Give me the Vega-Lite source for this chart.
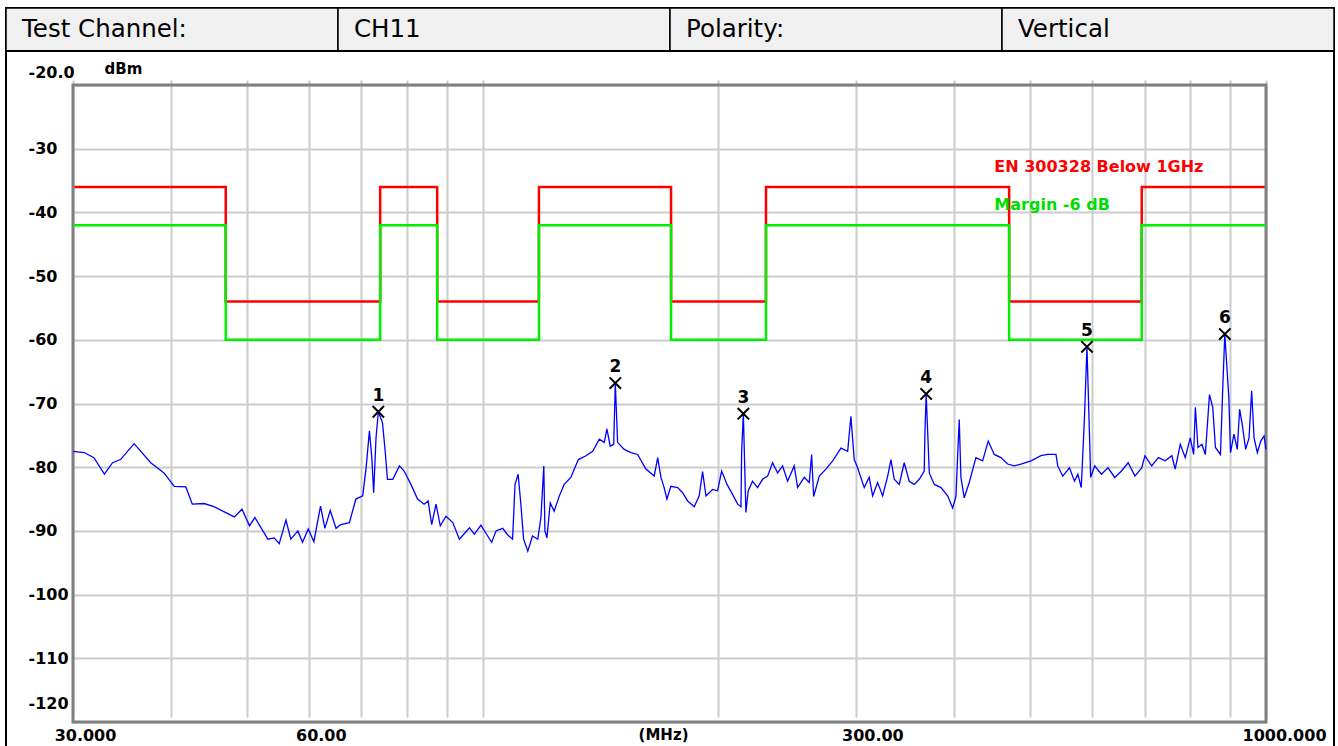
{
  "$schema": "https://vega.github.io/schema/vega-lite/v6.json",
  "background": "white",
  "padding": {"left": 4, "top": 6, "right": 0, "bottom": 0},
  "spacing": 0,
  "bounds": "flush",
  "config": {"view": {"stroke": "#000000", "strokeWidth": 2}, "concat": {"spacing": 0}},
  "datasets": {
    "header": [
      {"text": "Test Channel:"},
      {"text": "CH11"},
      {"text": "Polarity:"},
      {"text": "Vertical"}
    ],
    "limits": [
      {"series": "limit", "f": 30, "dBm": -36},
      {"series": "limit", "f": 47, "dBm": -54},
      {"series": "limit", "f": 74, "dBm": -36},
      {"series": "limit", "f": 87.5, "dBm": -54},
      {"series": "limit", "f": 118, "dBm": -36},
      {"series": "limit", "f": 174, "dBm": -54},
      {"series": "limit", "f": 230, "dBm": -36},
      {"series": "limit", "f": 470, "dBm": -54},
      {"series": "limit", "f": 694, "dBm": -36},
      {"series": "limit", "f": 1000, "dBm": -36},
      {"series": "margin", "f": 30, "dBm": -42},
      {"series": "margin", "f": 47, "dBm": -60},
      {"series": "margin", "f": 74, "dBm": -42},
      {"series": "margin", "f": 87.5, "dBm": -60},
      {"series": "margin", "f": 118, "dBm": -42},
      {"series": "margin", "f": 174, "dBm": -60},
      {"series": "margin", "f": 230, "dBm": -42},
      {"series": "margin", "f": 470, "dBm": -60},
      {"series": "margin", "f": 694, "dBm": -42},
      {"series": "margin", "f": 1000, "dBm": -42}
    ],
    "markers": [
      {"n": "1", "f": 73.6, "dBm": -71.3},
      {"n": "2", "f": 147.7, "dBm": -66.8},
      {"n": "3", "f": 215.2, "dBm": -71.6},
      {"n": "4", "f": 368.3, "dBm": -68.5},
      {"n": "5", "f": 590.8, "dBm": -61.1},
      {"n": "6", "f": 886, "dBm": -59.1}
    ],
    "trace": [
      {"f": 30.0, "dBm": -77.5}, {"f": 31.0, "dBm": -77.7}, {"f": 31.9, "dBm": -78.5}, {"f": 32.9, "dBm": -81.1},
      {"f": 33.7, "dBm": -79.3}, {"f": 34.5, "dBm": -78.8}, {"f": 35.9, "dBm": -76.3}, {"f": 37.7, "dBm": -79.3},
      {"f": 39.2, "dBm": -80.9}, {"f": 40.4, "dBm": -83.0}, {"f": 41.8, "dBm": -83.1}, {"f": 42.6, "dBm": -85.8},
      {"f": 44.1, "dBm": -85.7}, {"f": 45.4, "dBm": -86.2}, {"f": 48.2, "dBm": -87.8}, {"f": 49.3, "dBm": -86.6},
      {"f": 50.4, "dBm": -89.2}, {"f": 51.2, "dBm": -87.9}, {"f": 53.2, "dBm": -91.3}, {"f": 54.2, "dBm": -91.1},
      {"f": 55.0, "dBm": -92.0}, {"f": 56.1, "dBm": -88.3}, {"f": 56.9, "dBm": -91.3}, {"f": 58.1, "dBm": -90.0},
      {"f": 58.9, "dBm": -91.8}, {"f": 59.9, "dBm": -89.7}, {"f": 60.9, "dBm": -91.7}, {"f": 62.1, "dBm": -86.1},
      {"f": 62.9, "dBm": -89.6}, {"f": 63.9, "dBm": -86.8}, {"f": 65.0, "dBm": -89.6}, {"f": 65.9, "dBm": -89.0},
      {"f": 67.6, "dBm": -88.7}, {"f": 68.9, "dBm": -85.0}, {"f": 70.3, "dBm": -84.5}, {"f": 71.0, "dBm": -80.1},
      {"f": 71.7, "dBm": -74.3}, {"f": 72.2, "dBm": -78.5}, {"f": 72.6, "dBm": -84.0}, {"f": 73.1, "dBm": -75.4},
      {"f": 73.6, "dBm": -71.3}, {"f": 74.5, "dBm": -73.0}, {"f": 75.1, "dBm": -77.5}, {"f": 75.6, "dBm": -81.9},
      {"f": 76.8, "dBm": -81.9}, {"f": 78.3, "dBm": -79.8}, {"f": 79.4, "dBm": -80.6}, {"f": 81.0, "dBm": -82.7},
      {"f": 82.6, "dBm": -85.0}, {"f": 84.2, "dBm": -85.8}, {"f": 85.2, "dBm": -85.3}, {"f": 86.1, "dBm": -89.0},
      {"f": 87.2, "dBm": -85.8}, {"f": 88.3, "dBm": -89.2}, {"f": 89.8, "dBm": -87.7}, {"f": 91.6, "dBm": -88.7},
      {"f": 93.4, "dBm": -91.3}, {"f": 96.2, "dBm": -89.5}, {"f": 97.6, "dBm": -90.5}, {"f": 99.5, "dBm": -89.1},
      {"f": 101.5, "dBm": -90.8}, {"f": 102.7, "dBm": -91.8}, {"f": 104.0, "dBm": -90.0}, {"f": 106.1, "dBm": -89.6},
      {"f": 107.6, "dBm": -90.6}, {"f": 109.2, "dBm": -91.3}, {"f": 110.0, "dBm": -82.7}, {"f": 111.0, "dBm": -81.1},
      {"f": 111.9, "dBm": -85.8}, {"f": 112.8, "dBm": -91.3}, {"f": 114.2, "dBm": -93.2}, {"f": 115.8, "dBm": -90.8},
      {"f": 117.6, "dBm": -91.3}, {"f": 118.7, "dBm": -87.9}, {"f": 119.7, "dBm": -79.8}, {"f": 120.1, "dBm": -90.0},
      {"f": 120.8, "dBm": -91.1}, {"f": 122.0, "dBm": -85.6}, {"f": 123.4, "dBm": -86.9}, {"f": 125.3, "dBm": -84.5},
      {"f": 127.1, "dBm": -82.7}, {"f": 129.6, "dBm": -81.6}, {"f": 132.5, "dBm": -78.8}, {"f": 135.5, "dBm": -78.2},
      {"f": 138.2, "dBm": -77.5}, {"f": 140.9, "dBm": -75.6}, {"f": 143.0, "dBm": -76.1}, {"f": 144.1, "dBm": -74.0},
      {"f": 145.5, "dBm": -76.7}, {"f": 147.0, "dBm": -76.4}, {"f": 147.7, "dBm": -66.8}, {"f": 148.7, "dBm": -76.1},
      {"f": 151.6, "dBm": -77.2}, {"f": 154.7, "dBm": -77.7}, {"f": 157.7, "dBm": -78.0}, {"f": 161.6, "dBm": -80.3},
      {"f": 165.6, "dBm": -81.4}, {"f": 167.3, "dBm": -78.5}, {"f": 168.9, "dBm": -81.6}, {"f": 170.5, "dBm": -83.2},
      {"f": 171.9, "dBm": -85.0}, {"f": 173.9, "dBm": -83.0}, {"f": 177.4, "dBm": -83.2}, {"f": 180.0, "dBm": -84.0},
      {"f": 182.7, "dBm": -85.3}, {"f": 186.3, "dBm": -86.2}, {"f": 189.0, "dBm": -84.5}, {"f": 190.9, "dBm": -80.7},
      {"f": 192.8, "dBm": -84.5}, {"f": 196.6, "dBm": -83.5}, {"f": 199.5, "dBm": -83.7}, {"f": 201.9, "dBm": -80.6},
      {"f": 205.1, "dBm": -82.7}, {"f": 207.9, "dBm": -84.0}, {"f": 211.6, "dBm": -85.8}, {"f": 213.7, "dBm": -86.2},
      {"f": 214.1, "dBm": -77.7}, {"f": 215.2, "dBm": -71.6}, {"f": 216.8, "dBm": -87.1}, {"f": 218.3, "dBm": -83.7},
      {"f": 221.1, "dBm": -82.2}, {"f": 224.4, "dBm": -83.2}, {"f": 227.7, "dBm": -81.9}, {"f": 231.1, "dBm": -81.4},
      {"f": 234.5, "dBm": -79.3}, {"f": 238.0, "dBm": -80.9}, {"f": 241.5, "dBm": -79.8}, {"f": 245.1, "dBm": -82.2},
      {"f": 249.9, "dBm": -79.8}, {"f": 252.4, "dBm": -83.2}, {"f": 257.4, "dBm": -81.6}, {"f": 261.2, "dBm": -82.4},
      {"f": 263.0, "dBm": -78.0}, {"f": 264.6, "dBm": -84.6}, {"f": 269.0, "dBm": -81.4}, {"f": 274.3, "dBm": -80.3},
      {"f": 279.8, "dBm": -79.0}, {"f": 286.7, "dBm": -77.0}, {"f": 292.4, "dBm": -77.5}, {"f": 295.2, "dBm": -72.0},
      {"f": 296.7, "dBm": -75.6}, {"f": 298.1, "dBm": -78.8}, {"f": 301.1, "dBm": -80.1}, {"f": 307.0, "dBm": -83.2},
      {"f": 311.5, "dBm": -81.6}, {"f": 314.7, "dBm": -84.5}, {"f": 319.3, "dBm": -82.4}, {"f": 324.1, "dBm": -84.5},
      {"f": 328.9, "dBm": -81.4}, {"f": 332.1, "dBm": -78.8}, {"f": 335.3, "dBm": -81.9}, {"f": 340.3, "dBm": -82.7},
      {"f": 345.3, "dBm": -79.3}, {"f": 350.4, "dBm": -82.2}, {"f": 355.6, "dBm": -82.7}, {"f": 360.9, "dBm": -81.9},
      {"f": 366.2, "dBm": -80.6}, {"f": 367.0, "dBm": -74.3}, {"f": 368.3, "dBm": -68.5}, {"f": 371.7, "dBm": -80.9},
      {"f": 377.2, "dBm": -82.7}, {"f": 384.7, "dBm": -83.2}, {"f": 392.3, "dBm": -84.5}, {"f": 398.1, "dBm": -86.4},
      {"f": 402.0, "dBm": -84.6}, {"f": 404.0, "dBm": -78.2}, {"f": 405.9, "dBm": -72.5}, {"f": 407.9, "dBm": -81.6},
      {"f": 411.9, "dBm": -84.8}, {"f": 418.0, "dBm": -82.4}, {"f": 426.3, "dBm": -78.5}, {"f": 434.8, "dBm": -79.0},
      {"f": 442.0, "dBm": -75.9}, {"f": 449.9, "dBm": -78.0}, {"f": 458.8, "dBm": -78.5}, {"f": 468.0, "dBm": -79.5},
      {"f": 477.1, "dBm": -79.8}, {"f": 486.6, "dBm": -79.5}, {"f": 501.2, "dBm": -79.0}, {"f": 516.1, "dBm": -78.2},
      {"f": 526.4, "dBm": -78.0}, {"f": 539.4, "dBm": -78.0}, {"f": 542.2, "dBm": -79.8}, {"f": 550.2, "dBm": -81.4},
      {"f": 561.2, "dBm": -80.1}, {"f": 569.6, "dBm": -82.2}, {"f": 575.2, "dBm": -81.1}, {"f": 581.0, "dBm": -83.2},
      {"f": 586.6, "dBm": -72.0}, {"f": 590.8, "dBm": -61.1}, {"f": 594.3, "dBm": -72.0}, {"f": 597.3, "dBm": -81.6},
      {"f": 604.4, "dBm": -79.8}, {"f": 616.4, "dBm": -81.1}, {"f": 628.6, "dBm": -80.1}, {"f": 641.1, "dBm": -81.6},
      {"f": 653.9, "dBm": -80.6}, {"f": 666.9, "dBm": -79.3}, {"f": 680.3, "dBm": -81.4}, {"f": 693.9, "dBm": -80.1},
      {"f": 700.6, "dBm": -78.2}, {"f": 714.6, "dBm": -79.8}, {"f": 728.8, "dBm": -78.5}, {"f": 743.5, "dBm": -79.0},
      {"f": 758.3, "dBm": -78.2}, {"f": 765.7, "dBm": -80.3}, {"f": 777.3, "dBm": -76.4}, {"f": 788.7, "dBm": -78.5},
      {"f": 800.4, "dBm": -75.4}, {"f": 808.4, "dBm": -78.0}, {"f": 812.5, "dBm": -70.6}, {"f": 818.7, "dBm": -76.9},
      {"f": 828.4, "dBm": -76.4}, {"f": 836.7, "dBm": -78.0}, {"f": 846.9, "dBm": -68.6}, {"f": 855.1, "dBm": -70.6},
      {"f": 861.9, "dBm": -76.9}, {"f": 874.7, "dBm": -78.0}, {"f": 881.0, "dBm": -67.0}, {"f": 886.0, "dBm": -59.1},
      {"f": 896.5, "dBm": -69.1}, {"f": 901.0, "dBm": -77.7}, {"f": 910.1, "dBm": -74.8}, {"f": 919.0, "dBm": -77.2},
      {"f": 925.4, "dBm": -70.9}, {"f": 932.6, "dBm": -73.3}, {"f": 941.9, "dBm": -77.2}, {"f": 951.4, "dBm": -75.4},
      {"f": 958.7, "dBm": -68.0}, {"f": 965.5, "dBm": -75.4}, {"f": 974.9, "dBm": -77.7}, {"f": 984.7, "dBm": -75.9},
      {"f": 994.3, "dBm": -75.1}, {"f": 1000.0, "dBm": -77.2}
    ]
  },
  "vconcat": [
    {
      "width": 1328,
      "height": 43,
      "data": {"name": "header"},
      "layer": [
        {
          "mark": {"type": "rect", "fill": "#f0f0f0", "stroke": "#000000", "strokeWidth": 1.5},
          "encoding": {
            "x": {"field": "text", "type": "ordinal", "sort": null, "scale": {"paddingInner": 0, "paddingOuter": 0}, "axis": null}
          }
        },
        {
          "mark": {"type": "text", "align": "left", "baseline": "middle", "dx": 16, "font": "DejaVu Sans", "fontSize": 24.5, "color": "#000000"},
          "encoding": {
            "x": {"field": "text", "type": "ordinal", "sort": null, "bandPosition": 0, "axis": null},
            "text": {"field": "text"}
          }
        }
      ]
    },
    {
      "width": 1328,
      "height": 700,
      "layer": [
        {
          "data": {"name": "limits"},
          "transform": [{"filter": "datum.series == 'limit'"}],
          "mark": {"type": "line", "interpolate": "step-after", "color": "#ff0000", "strokeWidth": 2.5},
          "encoding": {
            "x": {
              "field": "f", "type": "quantitative",
              "scale": {"type": "log", "domain": [30, 1000], "range": [67, 1260], "nice": false},
              "axis": {
                "orient": "bottom", "offset": -29, "title": null,
                "values": [30, 40, 50, 60, 70, 80, 90, 100, 200, 300, 400, 500, 600, 700, 800, 900, 1000],
                "grid": true, "gridColor": "#cccccc", "gridWidth": 2,
                "domain": false, "ticks": false, "tickSize": 0,
                "labelExpr": "datum.value == 30 ? '30.000' : datum.value == 60 ? '60.00' : datum.value == 300 ? '300.00' : datum.value == 1000 ? '1000.000' : ''",
                "labelFont": "DejaVu Sans", "labelFontWeight": "bold", "labelFontSize": 16, "labelColor": "#000000",
                "labelPadding": 5, "labelBaseline": "top", "labelAlign": "center",
                "labelOverlap": false, "labelBound": false, "labelFlush": false,
                "labelOffset": {"condition": [
                  {"test": "datum.value == 30", "value": 12},
                  {"test": "datum.value == 60", "value": 12},
                  {"test": "datum.value == 300", "value": 16},
                  {"test": "datum.value == 1000", "value": 18}
                ], "value": 0}
              }
            },
            "y": {
              "field": "dBm", "type": "quantitative",
              "scale": {"domain": [-120, -20], "range": [671, 34], "nice": false, "zero": false},
              "axis": {
                "orient": "left", "offset": -67, "title": null,
                "values": [-20, -30, -40, -50, -60, -70, -80, -90, -100, -110, -120],
                "grid": true, "gridColor": "#cccccc", "gridWidth": 2,
                "domain": false, "ticks": false, "tickSize": 0,
                "labelExpr": "datum.value == -20 ? '-20.0' : '' + datum.value",
                "labelFont": "DejaVu Sans", "labelFontWeight": "bold", "labelFontSize": 16, "labelColor": "#000000",
                "labelPadding": 45, "labelAlign": "left", "labelBaseline": "middle",
                "labelOverlap": false, "labelBound": false, "labelFlush": false,
                "labelOffset": {"condition": [
                  {"test": "datum.value == -20", "value": -13},
                  {"test": "datum.value == -120", "value": -19}
                ], "value": 0}
              }
            }
          }
        },
        {
          "data": {"values": [{"k": 1}]},
          "mark": {"type": "rect", "fill": null, "stroke": "#808080", "strokeWidth": 3},
          "encoding": {
            "x": {"datum": 30, "type": "quantitative"},
            "x2": {"datum": 1000},
            "y": {"datum": -120, "type": "quantitative"},
            "y2": {"datum": -20}
          }
        },
        {
          "data": {"name": "limits"},
          "transform": [{"filter": "datum.series == 'margin'"}],
          "mark": {"type": "line", "interpolate": "step-after", "color": "#00ee00", "strokeWidth": 2.5},
          "encoding": {
            "x": {"field": "f", "type": "quantitative"},
            "y": {"field": "dBm", "type": "quantitative"}
          }
        },
        {
          "data": {"name": "trace"},
          "mark": {"type": "line", "color": "#0000ff", "strokeWidth": 1.3},
          "encoding": {
            "x": {"field": "f", "type": "quantitative"},
            "y": {"field": "dBm", "type": "quantitative"}
          }
        },
        {
          "data": {"name": "markers"},
          "mark": {"type": "point", "shape": "M-1,-1L1,1M-1,1L1,-1", "size": 130, "filled": false, "stroke": "#000000", "strokeWidth": 2, "opacity": 1},
          "encoding": {
            "x": {"field": "f", "type": "quantitative"},
            "y": {"field": "dBm", "type": "quantitative"}
          }
        },
        {
          "data": {"name": "markers"},
          "mark": {"type": "text", "dy": -16, "font": "DejaVu Sans", "fontWeight": "bold", "fontSize": 17, "color": "#000000"},
          "encoding": {
            "x": {"field": "f", "type": "quantitative"},
            "y": {"field": "dBm", "type": "quantitative"},
            "text": {"field": "n"}
          }
        },
        {
          "data": {"values": [{"k": 1}]},
          "mark": {"type": "text", "align": "left", "baseline": "middle", "font": "DejaVu Sans", "fontWeight": "bold", "fontSize": 16, "color": "#ff0000"},
          "encoding": {
            "x": {"datum": 450, "type": "quantitative"},
            "y": {"datum": -32.9, "type": "quantitative"},
            "text": {"value": "EN 300328 Below 1GHz"}
          }
        },
        {
          "data": {"values": [{"k": 1}]},
          "mark": {"type": "text", "align": "left", "baseline": "middle", "font": "DejaVu Sans", "fontWeight": "bold", "fontSize": 16, "color": "#00dd00"},
          "encoding": {
            "x": {"datum": 450, "type": "quantitative"},
            "y": {"datum": -38.8, "type": "quantitative"},
            "text": {"value": "Margin -6 dB"}
          }
        },
        {
          "data": {"values": [{"k": 1}]},
          "mark": {"type": "text", "align": "center", "baseline": "middle", "dy": -16, "font": "DejaVu Sans", "fontWeight": "bold", "fontSize": 15, "color": "#000000"},
          "encoding": {
            "x": {"datum": 34.8, "type": "quantitative"},
            "y": {"datum": -20, "type": "quantitative"},
            "text": {"value": "dBm"}
          }
        },
        {
          "data": {"values": [{"k": 1}]},
          "mark": {"type": "text", "align": "center", "baseline": "middle", "dy": 13, "font": "DejaVu Sans", "fontWeight": "bold", "fontSize": 15, "color": "#000000"},
          "encoding": {
            "x": {"datum": 170.2, "type": "quantitative"},
            "y": {"datum": -120, "type": "quantitative"},
            "text": {"value": "(MHz)"}
          }
        }
      ]
    }
  ]
}
